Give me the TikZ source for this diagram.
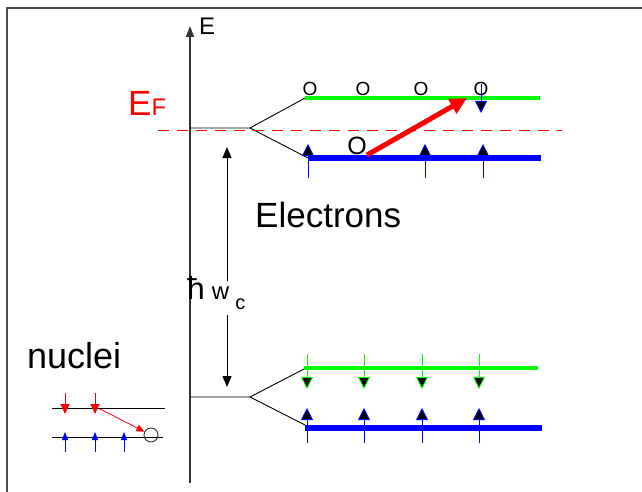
\documentclass[tikz,border=0pt]{standalone}
\usepackage{fontspec}
\setmainfont{Liberation Sans}
\usetikzlibrary{arrows.meta,positioning}
\definecolor{lgreen}{RGB}{0,255,0}

\begin{document}
\begin{tikzpicture}[x=1pt, y=-1pt,
        lbl/.style={inner sep=0pt, anchor=base west, font=\fontsize{35}{38}\selectfont},
        hole/.style={inner sep=0pt, font=\fontsize{19}{20}\selectfont},
        lev/.style={line width=0.9pt, black},
        band/.style={line width=4.5pt},
        spinup/.style={blue, line width=0.9pt, -{Triangle[width=12pt,length=12pt,fill=black]}},
        spindn/.style={line width=0.9pt, -{Triangle[width=12pt,length=12pt,fill=black]}},
        ar/.style={line width=0.9pt, -{Triangle[width=9pt,length=11pt]}}
    ]
        \useasboundingbox (0,0) rectangle (642,492);
        % frame and energy axis
        \draw[line width=1.6pt, black!70] (7,492) -- (7,8) -- (642,8);
        \coordinate (O) at (190,483);
        \coordinate (Etop) at (190,26);
        \draw[line width=1.4pt, black!80, -{Triangle[width=8pt,length=11pt]}] (O) -- (Etop);
        \node (E) [lbl, font=\fontsize{24}{26}\selectfont] at (199,35) {E};
        % upper Landau level
        \coordinate (u0) at (190,128);
        \coordinate (us) at (250,128);
        \coordinate (ug) at (305,98);
        \coordinate (ugE) at (540,98);
        \coordinate (ub) at (308,158);
        \coordinate (ubE) at (541,158);
        \draw[lev] (u0) -- (us) -- (ug);
        \draw[lev] (us) -- (ub);
        \draw[band, lgreen] (ug) -- (ugE);
        \draw[band, blue, line width=5.5pt] (ub) -- (ubE);
        \draw[red, line width=1pt, dash pattern=on 11pt off 8pt] (158,131) -- (562,131);
        \node (EF) [lbl, text=red] at (128,116) {E{\fontsize{24}{26}\selectfont F}};
        \foreach \x [count=\i] in {310,363,421,481}
            \node (h\i) [hole] at (\x,89) {O};
        \foreach \x in {308,425,483}
            \draw[spinup] (\x,178) -- (\x,144);
        \draw[spindn, blue] (481,84) -- (481,113);
        \node (hb) [hole, font=\fontsize{25}{26}\selectfont] at (357,146) {O};
        \coordinate (ftip) at (467,98);
        \draw[red, line width=5pt, -{Triangle[width=16pt,length=17pt]}] (hb.south east) -- (ftip);
        % lower Landau level
        \coordinate (l0) at (190,397);
        \coordinate (ls) at (250,397);
        \coordinate (lg) at (304,369);
        \coordinate (lgE) at (538,368);
        \coordinate (lb) at (305,425);
        \coordinate (lbE) at (542,428);
        \draw[lev] (l0) -- (ls) -- (lg);
        \draw[lev] (ls) -- (lb);
        \draw[band, lgreen] (lg |- lgE) -- (lgE);
        \draw[band, blue, line width=5.5pt] (lb |- lbE) -- (lbE);
        \foreach \x in {307,364,422,479} {
            \draw[spindn, lgreen] (\x,354) -- (\x,389);
            \draw[spinup] (\x,443) -- (\x,408);
        }
        % cyclotron gap
        \node (hw) [inner sep=0pt, anchor=base west] at (187,299)
            {\fontsize{32}{34}\selectfont ħ\hspace{7pt}\fontsize{24}{26}\selectfont w\hspace{6pt}\raisebox{-10pt}{\fontsize{20}{22}\selectfont c}};
        \coordinate (gT) at (227,147);
        \coordinate (gTe) at (227,281);
        \coordinate (gB) at (227,387);
        \coordinate (gBs) at (227,315);
        \draw[ar] (gTe) -- (gT);
        \draw[ar] (gBs) -- (gB);
        \node (el) [lbl] at (255,227) {Electrons};
        % nuclei
        \node (nu) [lbl, font=\fontsize{36}{38}\selectfont] at (27,368) {nuclei};
        \coordinate (n1) at (52,408);
        \coordinate (n1E) at (165,408);
        \coordinate (n2) at (52,437);
        \coordinate (n2E) at (163,437);
        \draw[lev] (n1) -- (n1E);
        \draw[lev] (n2) -- (n2E);
        \foreach \x in {65,95}
            \draw[red, line width=0.9pt, -{Triangle[width=9pt,length=10pt]}] (\x,393) -- (\x,414);
        \foreach \x in {65,95,124}
            \draw[blue, line width=0.9pt, -{Triangle[width=6pt,length=8pt]}] (\x,452) -- (\x,432);
        \node (nh) [draw, circle, black!80, line width=0.9pt, minimum size=14pt, inner sep=0pt] at (151,435) {};
        \coordinate (nf) at (100,409);
        \draw[red, line width=0.8pt, -{Triangle[width=7pt,length=8pt]}] (nf) -- (nh);
\end{tikzpicture}
\end{document}
